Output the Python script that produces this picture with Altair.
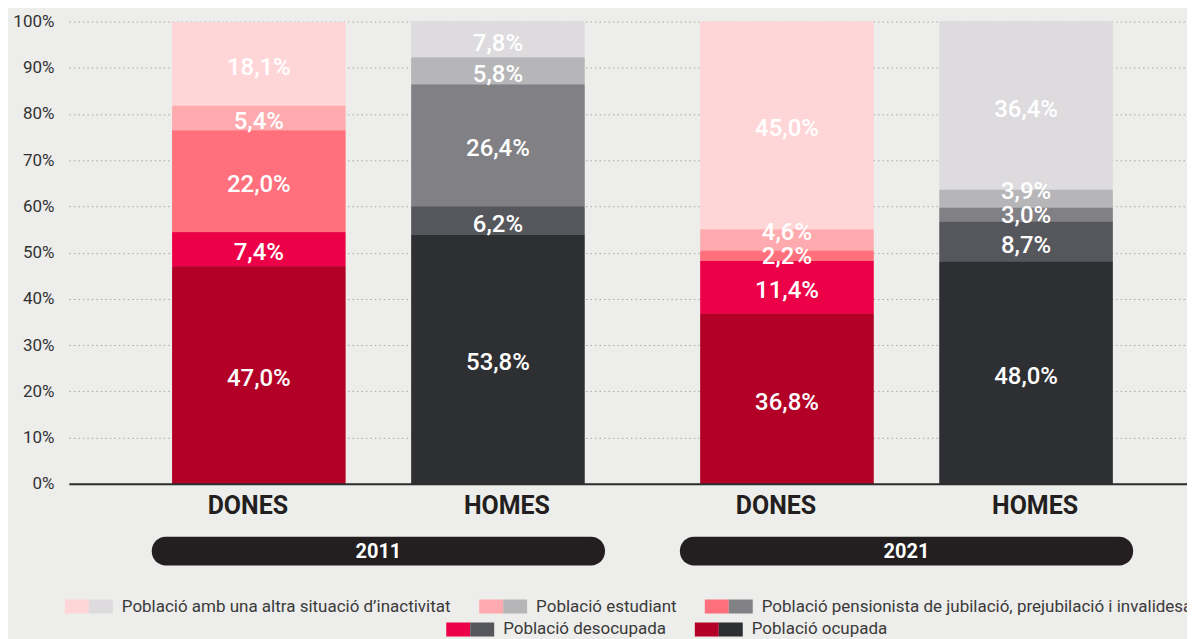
import altair as alt
import pandas as pd

years = ["2011", "2021"]
genders = ["DONES", "HOMES"]
# top-to-bottom order of the stack (also legend order)
categories = [
    "Població amb una altra situació d’inactivitat",
    "Població estudiant",
    "Població pensionista de jubilació, prejubilació i invalidesa",
    "Població desocupada",
    "Població ocupada",
]
row1 = categories[:3]
row2 = categories[3:]

# values in the category order above (percent)
dones_2011 = [18.1, 5.4, 22.0, 7.4, 47.0]
homes_2011 = [7.8, 5.8, 26.4, 6.2, 53.8]
dones_2021 = [45.0, 4.6, 2.2, 11.4, 36.8]
homes_2021 = [36.4, 3.9, 3.0, 8.7, 48.0]

women_colors = ["#FFD6D8", "#FFAAAE", "#FF6F7C", "#EC0048", "#B20026"]
men_colors = ["#DDDBDE", "#B6B6B8", "#818085", "#56575C", "#2E2F33"]

series = [
    ("2011", "DONES", dones_2011),
    ("2011", "HOMES", homes_2011),
    ("2021", "DONES", dones_2021),
    ("2021", "HOMES", homes_2021),
]
rows = []
for yr, g, vals in series:
    for i, (c, v) in enumerate(zip(categories, vals)):
        rows.append({"year": yr, "gender": g, "cat": c, "value": v,
                     "ord": len(categories) - 1 - i})
df = pd.DataFrame(rows)
labels_df = pd.DataFrame([{"year": y, "gender": g} for y in years for g in genders])
years_df = pd.DataFrame({"year": years})

W, H = 1120, 463
FONT = "Roboto"

xscale = alt.Scale(domain=years, paddingInner=0.0909, paddingOuter=0.104, align=0.632)
xenc = alt.X("year:N", scale=xscale,
             axis=alt.Axis(labels=False, ticks=False, title=None, grid=False,
                           domainColor="#2b2b2b", domainWidth=2, zindex=1))
xoff = alt.XOffset("gender:N", scale=alt.Scale(domain=genders, paddingInner=0.276, paddingOuter=0.142))
yaxis = alt.Axis(values=list(range(0, 101, 10)), labelExpr="datum.value + '%'",
                 ticks=False, domain=False, title=None, grid=True,
                 gridDash=[1.5, 3], gridColor="#a8a8a8", gridWidth=1,
                 labelFont=FONT, labelFontSize=17, labelColor="#333333", labelPadding=15)
yscale = alt.Scale(domain=[0, 100], nice=False)

base = alt.Chart(df).transform_stack(
    stack="value", groupby=["year", "gender"], as_=["y0", "y1"],
    sort=[alt.SortField("ord", order="ascending")]
).transform_calculate(
    mid="(datum.y0 + datum.y1) / 2",
    label="replace(format(datum.value, '.1f'), '.', ',') + '%'"
)

SYM_W = "M-1,-0.583H1V0.583H-1Z M3,0L3,0"
SYM_M = "M1,-0.583H3V0.583H1Z M-1,0L-1,0"


def legend(path, vals, show, lx, ly):
    return alt.Legend(title=None, values=vals, orient="none", legendX=lx, legendY=ly,
                      direction="horizontal", symbolType=path, symbolSize=576,
                      symbolStrokeWidth=0, symbolOpacity=1, labelOffset=33,
                      labelFont=FONT, labelFontSize=17, labelColor="#3a3a3a",
                      labelOpacity=1 if show else 0, labelLimit=900,
                      columnPadding=28, padding=0)


def bars(gender, colors, leg):
    return base.transform_filter(alt.datum.gender == gender).mark_bar().encode(
        x=xenc, xOffset=xoff,
        y=alt.Y("y1:Q", scale=yscale, axis=yaxis), y2="y0:Q",
        color=alt.Color("cat:N", scale=alt.Scale(domain=categories, range=colors), legend=leg),
    )


L1X, L1Y = -4, 574
L2X, L2Y = 378, 597

w2 = bars("DONES", women_colors, legend(SYM_W, row2, False, L2X, L2Y))
m2 = bars("HOMES", men_colors, legend(SYM_M, row2, True, L2X, L2Y))
w1 = bars("DONES", women_colors, legend(SYM_W, row1, False, L1X, L1Y))
m1 = bars("HOMES", men_colors, legend(SYM_M, row1, True, L1X, L1Y))

STUDENT = categories[1]
PENSION = categories[2]
thin_top = (alt.datum.value < 5) & (alt.datum.cat == STUDENT)
thin_mid = (alt.datum.value < 5) & (alt.datum.cat == PENSION)


def value_text(filt, dy):
    return base.transform_filter(filt).mark_text(
        color="white", font=FONT, fontSize=24, fontWeight=500, baseline="middle", dy=dy
    ).encode(
        x=xenc, xOffset=xoff,
        y=alt.Y("mid:Q", scale=yscale, axis=yaxis),
        text="label:N",
    )


text_main = value_text(~(thin_top | thin_mid), 4)
text_top = value_text(thin_top, -7)
text_mid = value_text(thin_mid, 1)


def gender_text(g, dx):
    return alt.Chart(labels_df).transform_filter(alt.datum.gender == g).mark_text(
        font=FONT, fontWeight="bold", fontSize=25, color="#231F20", baseline="middle", dx=dx
    ).encode(x=xenc, xOffset=xoff, y=alt.value(H + 22), text="gender:N")


pills = alt.Chart(years_df).mark_bar(
    width=alt.RelativeBandSize(0.944), cornerRadius=14, color="#231F20"
).encode(x=xenc, y=alt.value(H + 53), y2=alt.value(H + 82))

pill_text = alt.Chart(years_df).mark_text(
    font=FONT, fontWeight="bold", fontSize=20, color="white", baseline="middle"
).encode(x=xenc, y=alt.value(H + 68), text="year:N")

chart = alt.layer(
    w2, m2, w1, m1, text_main, text_top, text_mid,
    gender_text("DONES", -11), gender_text("HOMES", 9), pills, pill_text
).resolve_scale(color="independent").resolve_legend(color="independent").properties(
    width=W, height=H,
    autosize=alt.AutoSizeParams(type="none"),
    padding={"left": 61, "top": 13, "right": 0, "bottom": 160},
    background="#EDEDEB",
).configure_view(stroke=None)

chart.save("out.html", embed_options={"renderer": "svg", "actions": False})
